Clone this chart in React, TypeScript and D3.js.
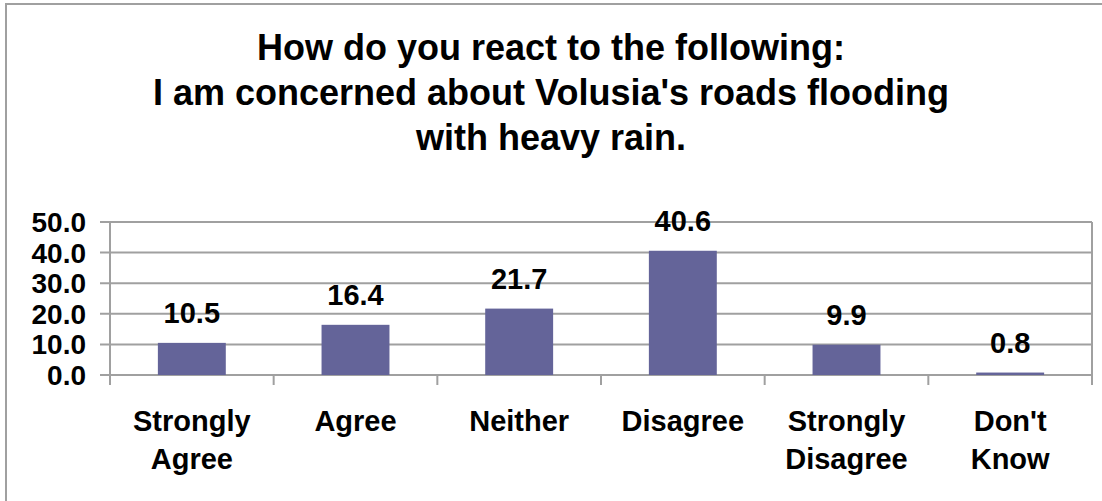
import React from "react";
import * as d3 from "d3";

const categories: string[][] = [
  ["Strongly", "Agree"],
  ["Agree"],
  ["Neither"],
  ["Disagree"],
  ["Strongly", "Disagree"],
  ["Don't", "Know"],
];
const values: number[] = [10.5, 16.4, 21.7, 40.6, 9.9, 0.8];
const yTicks: number[] = [0, 10, 20, 30, 40, 50];
const titleLines: string[] = [
  "How do you react to the following:",
  "I am concerned about Volusia's roads flooding",
  "with heavy rain.",
];

const W = 1102;
const H = 501;
const FONT = "'Liberation Sans', Arial, Helvetica, sans-serif";

export default function App() {
  const left = 110;
  const right = 1092;
  const top = 222;
  const bottom = 375;

  const keys = categories.map((c) => c.join(" "));
  const x = d3
    .scaleBand<string>()
    .domain(keys)
    .range([left, right])
    .paddingInner(0.585)
    .paddingOuter(0.2925);
  const step = x.step();
  const y = d3.scaleLinear().domain([0, 50]).range([bottom, top]);

  const grid = "#a0a0a0";

  return (
    <svg
      width={W}
      height={H}
      style={{ position: "absolute", left: 0, top: 0, background: "#fff" }}
      fontFamily={FONT}
      fontWeight="bold"
    >
      <rect x={0} y={0} width={W} height={H} fill="#fff" />
      <rect x={6} y={4} width={W + 20} height={H + 20} fill="none" stroke={grid} strokeWidth={2} />

      {titleLines.map((t, i) => (
        <text key={i} x={551} y={60 + i * 45} textAnchor="middle" fontSize={36} fill="#000">
          {t}
        </text>
      ))}

      {yTicks.map((t) => (
        <g key={t}>
          <line x1={100} x2={right} y1={y(t)} y2={y(t)} stroke={grid} strokeWidth={2} />
          <text x={86} y={y(t) + 10} textAnchor="end" fontSize={28} fill="#000">
            {t.toFixed(1)}
          </text>
        </g>
      ))}

      <line x1={left} x2={left} y1={top} y2={bottom} stroke={grid} strokeWidth={2} />
      <line x1={right} x2={right} y1={top} y2={bottom} stroke={grid} strokeWidth={2} />
      {d3.range(categories.length + 1).map((i) => (
        <line
          key={i}
          x1={left + i * step}
          x2={left + i * step}
          y1={bottom}
          y2={bottom + 10}
          stroke={grid}
          strokeWidth={2}
        />
      ))}

      {values.map((v, i) => {
        const k = keys[i];
        const bx = x(k)!;
        return (
          <g key={k}>
            <rect x={bx} y={y(v)} width={x.bandwidth()} height={bottom - y(v)} fill="#646499" />
            <text
              x={bx + x.bandwidth() / 2}
              y={y(v) - 20}
              textAnchor="middle"
              fontSize={29}
              fill="#000"
            >
              {v.toFixed(1)}
            </text>
          </g>
        );
      })}

      {categories.map((lines, i) => {
        const cx = x(keys[i])! + x.bandwidth() / 2;
        return (
          <text key={i} textAnchor="middle" fontSize={29} fill="#000">
            {lines.map((l, j) => (
              <tspan key={j} x={cx} y={431 + j * 38}>
                {l}
              </tspan>
            ))}
          </text>
        );
      })}
    </svg>
  );
}
